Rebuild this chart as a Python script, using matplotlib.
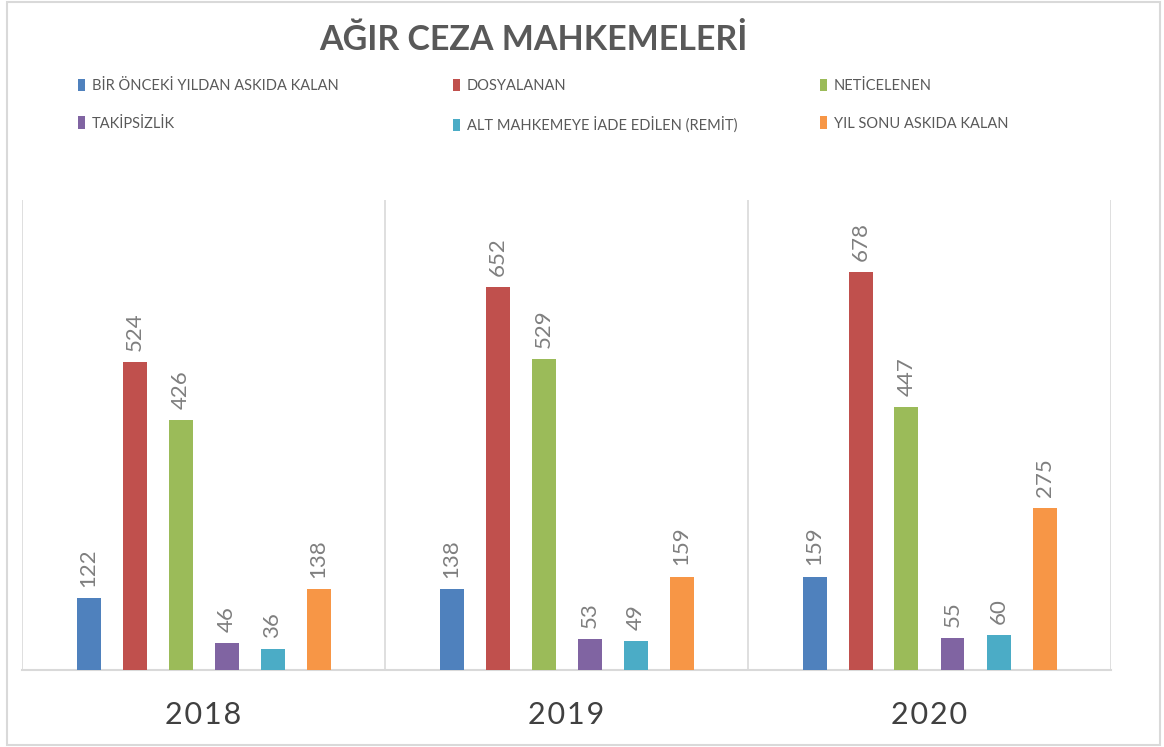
import matplotlib.pyplot as plt
from matplotlib.patches import Rectangle
import numpy as np

plt.rcParams['font.family'] = ['Lato', 'DejaVu Sans']

years = ["2018", "2019", "2020"]
series = ["BİR ÖNCEKİ YILDAN ASKIDA KALAN", "DOSYALANAN", "NETİCELENEN",
          "TAKİPSİZLİK", "ALT MAHKEMEYE İADE EDİLEN (REMİT)", "YIL SONU ASKIDA KALAN"]
onceki = [122, 138, 159]
dosyalanan = [524, 652, 678]
neticelenen = [426, 529, 447]
takipsizlik = [46, 53, 55]
remit = [36, 49, 60]
yil_sonu = [138, 159, 275]
colors = ["#4F81BD", "#C0504D", "#9BBB59", "#8064A2", "#4BACC6", "#F79646"]

W, H = 1164, 747
fig = plt.figure(figsize=(W / 100, H / 100), dpi=100)

# outer chart frame
fig.patches.append(Rectangle((7 / W, 2 / H), 1153 / W, 743 / H, transform=fig.transFigure,
                             fill=False, edgecolor="#D9D9D9", linewidth=1.5))

ax = fig.add_axes([22 / W, (H - 670) / H, 1089 / W, 470 / H])
values = [onceki, dosyalanan, neticelenen, takipsizlik, remit, yil_sonu]
step = 46 / 363
width = 24 / 363
x = np.arange(len(years))
handles = []
for j, (vals, col) in enumerate(zip(values, colors)):
    pos = x + (j - 2.5) * step
    bars = ax.bar(pos, vals, width=width, color=col, label=series[j], zorder=3)
    handles.append(bars)
    for p, v in zip(pos, vals):
        ax.annotate(str(v), (p, v), xytext=(0, 8), textcoords="offset points",
                    rotation=90, ha="center", va="bottom", fontsize=16, color="#7F7F7F")

ax.set_xlim(-0.5, 2.5)
ax.set_ylim(0, 800)
for s in ["top", "right", "left"]:
    ax.spines[s].set_visible(False)
ax.spines["bottom"].set_color("#D9D9D9")
ax.spines["bottom"].set_linewidth(1.5)
for b in [-0.5, 0.5, 1.5, 2.5]:
    ax.axvline(b, color="#D9D9D9", linewidth=1.2, zorder=1)
ax.set_yticks([])
ax.set_xticks(x)
ax.set_xticklabels(["\u200a".join(y) for y in years], fontsize=22, color="#404040")
ax.tick_params(axis="x", length=0, pad=22)

fig.text(533 / W, 1 - 40 / H, "AĞIR CEZA MAHKEMELERİ", ha="center", va="center",
         fontsize=24.5, fontweight="bold", color="#595959")

# legend: three columns of two entries each
col_x = [78, 453, 820]
for c in range(3):
    leg = fig.legend([handles[c], handles[c + 3]], [series[c], series[c + 3]],
                     loc="upper left", bbox_to_anchor=(col_x[c] / W, 1 - 79 / H),
                     frameon=False, fontsize=10.5, handlelength=0.5, handleheight=0.9,
                     handletextpad=0.45, labelspacing=1.6, labelcolor="#595959",
                     borderpad=0, borderaxespad=0)

fig.savefig("out.png", dpi=100)
